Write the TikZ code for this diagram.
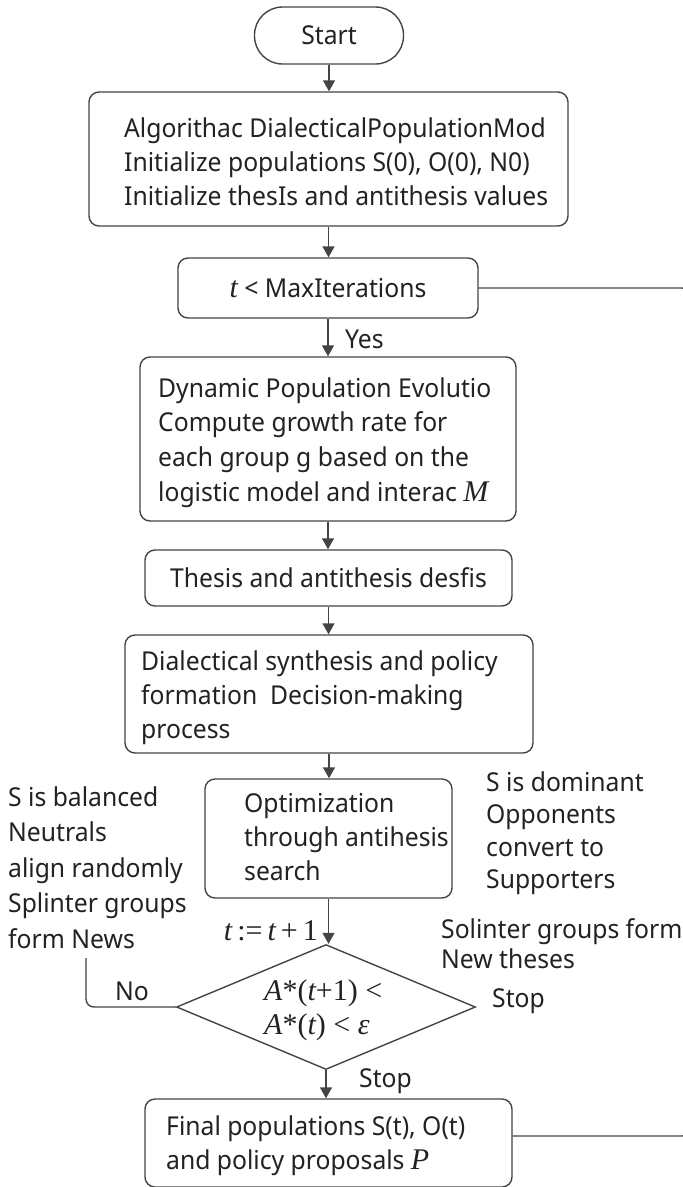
\documentclass[tikz,border=0pt]{standalone}
\usepackage{fontspec}
\setmainfont[FakeStretch=0.95]{Noto Sans}
\newfontfamily\symfont{Liberation Serif}
\usetikzlibrary{arrows.meta,shapes.geometric}
\definecolor{ink}{HTML}{222222}
\definecolor{edge}{HTML}{444444}
% italic serif variable, upright serif symbol
\newcommand\va[1]{{\symfont\fontsize{30}{34}\selectfont\itshape #1}}
\newcommand\vs[1]{{\symfont\fontsize{30}{34}\selectfont #1}}
\tikzset{
  txt/.style={text=ink, inner sep=0pt, font=\fontsize{26}{32}\selectfont},
  box/.style={draw=edge, line width=1.4pt, rounded corners=10pt, inner sep=0pt, txt},
  flow/.style={draw=edge, line width=1.4pt, -{Triangle[width=12pt,length=11pt]}},
  link/.style={draw=edge, line width=1.4pt, rounded corners=10pt},
}
% left-aligned lines of text, one node per line: name, x, first baseline, line step, lines
\newcommand\linesat[5]{%
  \foreach \ln [count=\k] in {#5}{%
    \node[txt, anchor=base west] (#1-\k) at ({#2},{#3+(\k-1)*#4}) {\ln};}}
\begin{document}
\begin{tikzpicture}[x=1pt,y=-1pt]
\useasboundingbox (0,0) rectangle (683,1187);

% boxes of the main flow
\node[box, rounded corners=28pt, minimum width=149pt, minimum height=57pt] (start) at (329,35.5) {Start};
\node[box, minimum width=479pt, minimum height=134pt] (b1) at (328.5,159) {};
\node[box, minimum width=300pt, minimum height=60pt] (b2) at (328,288) {\va{t} < MaxIterations};
\node[box, minimum width=376pt, minimum height=164pt] (b3) at (328,439) {};
\node[box, minimum width=367pt, minimum height=56pt] (b4) at (328.5,578) {Thesis and antithesis desfis};
\node[box, minimum width=408pt, minimum height=118pt] (b5) at (329,694) {};
\node[box, minimum width=247pt, minimum height=119pt] (b6) at (328.5,838.5) {};
\node[draw=edge, line width=1.4pt, diamond, inner sep=0pt, minimum width=299pt, minimum height=125pt] (dia) at (326,1007) {};
\node[box, minimum width=367pt, minimum height=88pt] (b7) at (328.5,1143) {};

% box texts
\linesat{t1}{124}{137}{34}{Algorithac DialecticalPopulationMod,{Initialize populations S(0), O(0), N0)},Initialize thesIs and antithesis values}
\linesat{t3}{158}{397}{34.7}{Dynamic Population Evolutio,Compute growth rate for,each group g based on the,logistic model and interac \va{M}}
\linesat{t5}{141}{670}{34}{Dialectical synthesis and policy,formation\ \ Decision-making,process}
\linesat{t6}{244}{812}{34}{Optimization,through antihesis,search}
\linesat{td}{264}{1000}{34}{\vs{\va{A}*(\va{t}+1) <},\vs{\va{A}*(\va{t}) < \va{ε}}}
\linesat{t7}{166}{1135}{34}{{Final populations S(t), O(t)},and policy proposals \va{P}}

% side notes
\linesat{ln}{8}{806}{35.5}{S is balanced,Neutrals,align randomly,Splinter groups,form News}
\linesat{rn}{486}{791}{32.5}{S is dominant,Opponents,convert to,Supporters}
\linesat{sn}{441}{938}{30}{Solinter groups form,New theses}

% connectors
\draw[flow] (start.south) -- (start.south |- b1.north);
\draw[flow] (b1.south) -- (b1.south |- b2.north);
\draw[flow] (b2.south) -- (b2.south |- b3.north);
\draw[flow] (b3.south) -- (b3.south |- b4.north);
\draw[flow] (b4.south) -- (b4.south |- b5.north);
\draw[flow] (b5.south) -- (b5.south |- b6.north);
\draw[flow] (b6.south) -- (b6.south |- dia.north);
\draw[flow] (dia.south) -- (dia.south |- b7.north);

\coordinate (noend) at (86,958);
\draw[link, rounded corners=8pt] (dia.west) -| (noend);
\coordinate (rtop) at (692,288);
\coordinate (rbot) at (692,1136);
\draw[link] (b2.east) -- (rtop) -- (rbot) -- (b7.east |- rbot);

% connector labels
\node[txt, anchor=base west] (yes) at (345,348) {Yes};
\node[txt, anchor=base east] (inc) at (318,940) {\vs{\va{t}\thinspace:=\thinspace\va{t}\,+\,1}};
\node[txt, anchor=base west] (no) at (115,1000) {No};
\node[txt, anchor=base west] (stopr) at (492,1007) {Stop};
\node[txt, anchor=base west] (stopd) at (359,1087) {Stop};
\end{tikzpicture}
\end{document}
